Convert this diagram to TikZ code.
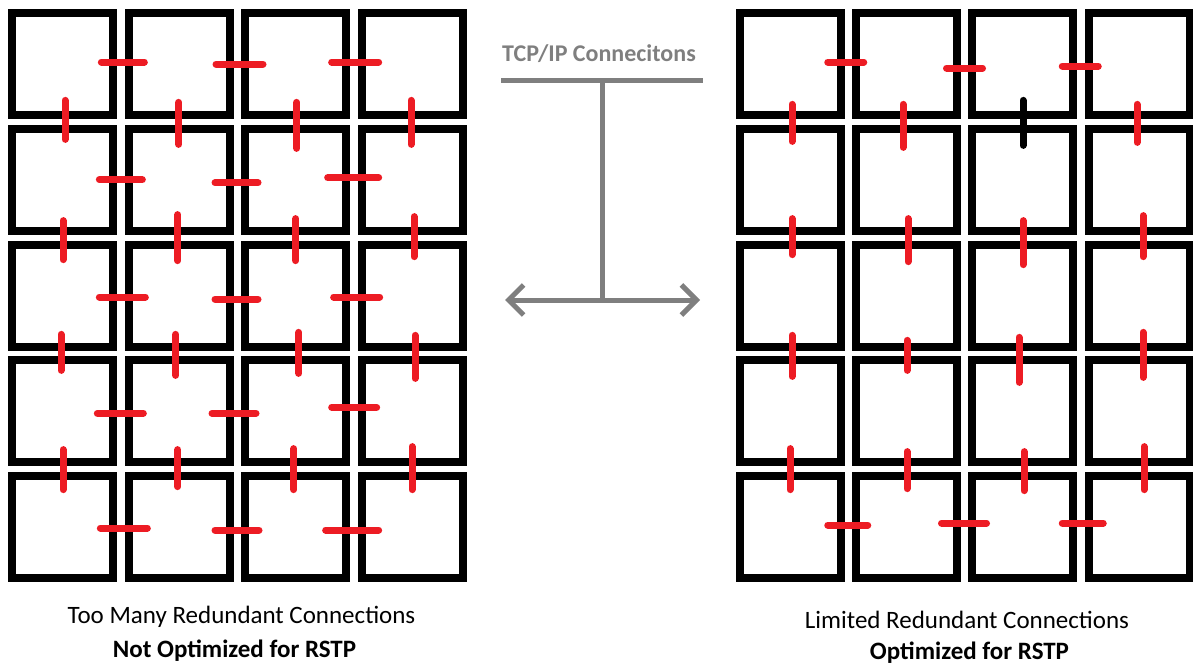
\documentclass[tikz,border=0pt]{standalone}
\usepackage{fontspec}
\setmainfont{Carlito}
\usetikzlibrary{positioning,calc,arrows.meta}

\definecolor{linkred}{HTML}{ED1C24}
\definecolor{tcpgray}{HTML}{7F7F7F}

% link across the shared wall of two switches: [style]{a}{b}{dx}{dy}{length}
\newcommand{\linkh}[6][rlink]{\draw[#1] ($(#2.east)!.5!(#3.west)+(#4,#5)$) ++({-(#6-7)/2},0) -- ++({#6-7},0);}
\newcommand{\linkv}[6][rlink]{\draw[#1] ($(#2.south)!.5!(#3.north)+(#4,#5)$) ++(0,{-(#6-7)/2}) -- ++(0,{#6-7});}

\begin{document}
\begin{tikzpicture}[x=0.5pt,y=-0.5pt,
  sw/.style={draw,line width=4pt,minimum width=50.5pt,minimum height=51pt,inner sep=0pt},
  rlink/.style={linkred,line width=3.5pt,line cap=round},
  blink/.style={black,line width=3.5pt,line cap=round},
  tcp/.style={tcpgray,line width=2.5pt},
  lbl/.style={font=\fontsize{12.5}{15}\selectfont,anchor=base},
  lblb/.style={lbl,font=\bfseries\fontsize{12.5}{15}\selectfont},
]
\useasboundingbox (0,0) rectangle (1193,669);

% === Switch grids ===
\foreach \r/\y in {1/64,2/179.75,3/295.5,4/411.25,5/527}{
  \foreach \c/\x in {1/62.5,2/179.2,3/295.8,4/412.5}
    \node[sw] (L-\r-\c) at (\x,\y) {};
  \foreach \c/\x in {1/790,2/906.5,3/1022.5,4/1139}
    \node[sw] (R-\r-\c) at (\x,\y) {};
}

% === Left: every neighbour linked ===
\foreach \r/\a/\b/\dx/\dy/\len in {1/1/2/2/-2/50, 1/2/3/2/0/54, 1/3/4/1/-2/54,
    2/1/2/0/0/50, 2/2/3/-1/3/50, 2/3/4/-1/-2/58,
    3/1/2/1.5/1.5/53, 3/2/3/-1/3.5/50, 3/3/4/2.5/1.5/53,
    4/1/2/-0.5/2/53, 4/2/3/-3.5/2/51, 4/3/4/0/-4/52,
    5/1/2/3/1/54, 5/2/3/-0.5/3/51, 5/3/4/-2/3/60}
  \linkh{L-\r-\a}{L-\r-\b}{\dx}{\dy}{\len};
\foreach \c/\a/\b/\dx/\dy/\len in {1/1/2/2.5/-2/46, 2/1/2/-0.5/1.5/49, 3/1/2/1/3.5/53, 4/1/2/-1.5/0.5/51,
    1/2/3/0.5/2.5/46, 2/2/3/-1.5/0/53, 3/2/3/0/2/49, 4/2/3/1.5/-1/47,
    1/3/4/-1.5/-1/43, 2/3/4/-3.5/1.5/48, 3/3/4/3/-0.5/48, 4/3/4/2.5/3.5/50,
    1/4/5/0.5/0.5/47, 2/4/5/-1.5/-1/44, 3/4/5/-2/0/48, 4/4/5/-0.5/-1/50}
  \linkv{L-\a-\c}{L-\b-\c}{\dx}{\dy}{\len};

% === Right: reduced links ===
\foreach \r/\a/\b/\dx/\dy/\len in {1/1/2/-2.5/-2/43, 1/2/3/0/4/43, 1/3/4/-0.5/2/43,
    5/1/2/-0.5/-2/47, 5/2/3/-0.5/-4/52, 5/3/4/2/-4/48}
  \linkh{R-\r-\a}{R-\r-\b}{\dx}{\dy}{\len};
\foreach \c/\a/\b/\dx/\dy/\len in {1/1/2/2/1/44, 2/1/2/-3.5/4/50, 4/1/2/-2/1.5/45,
    1/2/3/2/-1/43, 2/2/3/1.5/2.5/50, 3/2/3/0.5/5/51, 4/2/3/4/-1.5/48,
    1/3/4/2/2.5/48, 2/3/4/0.5/2/37, 3/3/4/-3.5/6.5/52, 4/3/4/4/1.5/52,
    1/4/5/0/0/48, 2/4/5/0.5/1/44, 3/4/5/1.5/2/46, 4/4/5/5/-1/50}
  \linkv{R-\a-\c}{R-\b-\c}{\dx}{\dy}{\len};
\linkv[blink]{R-1-3}{R-2-3}{0.5}{1}{52}

% === TCP/IP marker ===
\node[font=\bfseries\fontsize{12}{14}\selectfont,text=tcpgray,anchor=base] (tcp-title) at (599,61) {TCP/IP Connecitons};
\coordinate (bar-l) at (501,80);
\coordinate (bar-r) at (703,80);
\coordinate (stem) at (602,80);
\coordinate (fork) at (602,300);
\coordinate (arr-l) at (505,300);
\coordinate (arr-r) at (700,300);
\draw[tcp] (bar-l) -- (bar-r);
\draw[tcp] (stem) -- (fork);
\draw[tcp,{Straight Barb[length=7.5pt,width=15pt]}-{Straight Barb[length=7.5pt,width=15pt]}] (arr-l) -- (arr-r);

% === Captions ===
\node[lbl] (left-txt) at (241.5,623) {Too Many Redundant Connections};
\node[lblb] (left-verdict) at (234.5,657) {Not Optimized for RSTP};
\node[lbl] (right-txt) at (967,628) {Limited Redundant Connections};
\node[lblb] (right-verdict) at (969.5,659) {Optimized for RSTP};

\end{tikzpicture}
\end{document}
